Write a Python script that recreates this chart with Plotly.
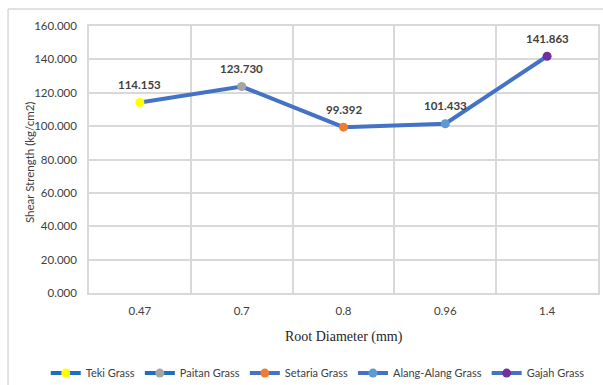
import plotly.graph_objects as go

# Root diameter categories (mm) and measured shear strength (kg/cm2)
root_diameter = ["0.47", "0.7", "0.8", "0.96", "1.4"]
shear_strength = [114.153, 123.730, 99.392, 101.433, 141.863]
grass_types = ["Teki Grass", "Paitan Grass", "Setaria Grass", "Alang-Alang Grass", "Gajah Grass"]
marker_colors = ["#FFFF00", "#A5A5A5", "#ED7D31", "#5B9BD5", "#7030A0"]
legend_line_colors = ["#1F6FC1", "#1F6FC1", "#4472C4", "#4472C4", "#4472C4"]

y_ticks = [0, 20, 40, 60, 80, 100, 120, 140, 160]

SANS = "Lato, Liberation Sans, sans-serif"
TEXT = "#404040"

fig = go.Figure()

# Connecting line through all measurements
fig.add_trace(go.Scatter(
    x=root_diameter, y=shear_strength, mode="lines",
    line=dict(color="#4472C4", width=4),
    showlegend=False, hoverinfo="skip",
))

# One point per grass type with its own marker colour
for name, xv, yv, mc, lc in zip(grass_types, root_diameter, shear_strength,
                                marker_colors, legend_line_colors):
    fig.add_trace(go.Scatter(
        x=[xv], y=[yv], name=name, mode="lines+markers",
        line=dict(color=lc, width=4),
        marker=dict(color=mc, size=9, line=dict(width=0)),
        cliponaxis=False,
    ))

# Value labels above each point (category index positions on the x axis)
value_labels = [
    dict(x=i, y=yv, xref="x", yref="y", text=f"<b>{yv:.3f}</b>", showarrow=False,
         xanchor="center", yanchor="middle", yshift=18,
         font=dict(family=SANS, size=11.5, color=TEXT))
    for i, yv in enumerate(shear_strength)
]

grid = "#D9D9D9"

fig.update_layout(
    width=603, height=385,
    margin=dict(l=89, r=5, t=26, b=92, autoexpand=False),
    paper_bgcolor="white", plot_bgcolor="white",
    font=dict(family=SANS, size=11, color=TEXT),
    xaxis=dict(
        type="category", tickson="boundaries",
        showgrid=True, gridcolor=grid, gridwidth=1.5,
        showline=True, linecolor=grid, linewidth=1.5, mirror=True,
        ticks="", ticklabelstandoff=6,
        tickfont=dict(family=SANS, size=11.5, color=TEXT),
        range=[-0.5, 4.5], fixedrange=True,
    ),
    yaxis=dict(
        range=[0, 160], tickvals=y_ticks,
        ticktext=[f"{v:.3f}" for v in y_ticks],
        showgrid=True, gridcolor=grid, gridwidth=1.5,
        showline=True, linecolor=grid, linewidth=1.5, mirror=True,
        zeroline=False, ticks="", ticklabelstandoff=8,
        tickfont=dict(family=SANS, size=11.5, color=TEXT),
    ),
    legend=dict(
        orientation="h", x=-0.085, xanchor="left", y=-0.30, yanchor="middle",
        font=dict(family=SANS, size=11, color=TEXT),
        tracegroupgap=0,
    ),
    annotations=value_labels + [
        dict(text="Root Diameter (mm)", xref="paper", yref="paper",
             x=0.5, y=-0.163, xanchor="center", yanchor="middle", showarrow=False,
             font=dict(family="Liberation Serif, Times New Roman, serif", size=14, color="#262626")),
        dict(text="Shear Strength (kg/cm2)", xref="paper", yref="paper",
             x=-0.118, y=0.49, xanchor="center", yanchor="middle", textangle=-90,
             showarrow=False,
             font=dict(family=SANS, size=11.5, color=TEXT)),
    ],
    shapes=[
        # chart-area frame (left and top edges)
        dict(type="line", xref="paper", yref="paper", x0=-0.159, x1=-0.159,
             y0=-0.35, y1=1.0637, line=dict(color=grid, width=1.5)),
        dict(type="line", xref="paper", yref="paper", x0=-0.159, x1=1.02,
             y0=1.0637, y1=1.0637, line=dict(color=grid, width=1.5)),
    ],
)

fig.write_html("out.html")
